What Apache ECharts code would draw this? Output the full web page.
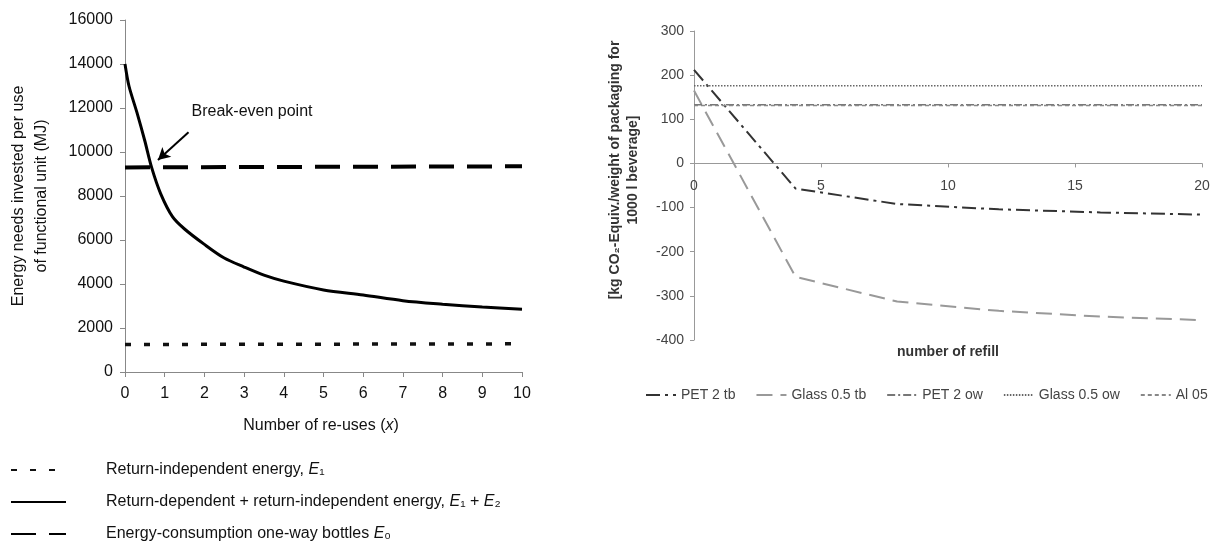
<!DOCTYPE html>
<html>
<head>
<meta charset="utf-8">
<script src="https://cdn.jsdelivr.net/npm/echarts@6/dist/echarts.min.js"></script>
<style>
  * { margin: 0; padding: 0; }
  html, body { width: 1215px; height: 556px; background: #fff; }
</style>
</head>
<body>
<div id="main" style="width:1215px;height:556px;"></div>
<script>
// left chart: energy per use vs number of re-uses
var reuses = [0, 0.1, 0.3, 0.5, 0.67, 0.9, 1.2, 1.5, 2, 2.5, 3, 3.5, 4, 5, 6, 7, 8, 9, 10];
var energyTotal = [14000, 13000, 11800, 10500, 9300, 8100, 7050, 6500, 5800, 5180, 4770, 4400, 4130, 3730, 3500, 3240, 3080, 2950, 2850];
var flatX = [0, 10];
var energyIndep = [1250, 1280];
var energyOneWay = [9300, 9350];
var leftNames = ['Return-independent energy, E1', 'Return-dependent + return-independent energy, E1 + E2', 'Energy-consumption one-way bottles E0'];

// right chart: CO2 per refill
var refills = [0, 4, 8, 12, 16, 20];
var pet2tb = [212, -57, -92, -104, -111, -116];
var glass05tb = [165, -257, -313, -334, -347, -355];
var flatRefill = [0, 20];
var pet2ow = [133, 133];
var glass05ow = [176, 176];
var al05 = [131, 131];
var rightNames = ['PET 2 tb', 'Glass 0.5 tb', 'PET 2 ow', 'Glass 0.5 ow', 'Al 05'];

function pairs(xs, ys) {
    var out = [];
    for (var i = 0; i < xs.length; i++) out.push([xs[i], ys[i]]);
    return out;
}

var font = '"Liberation Sans", Arial, sans-serif';
var chart = echarts.init(document.getElementById('main'));

var leftLabels = {};
leftLabels[leftNames[0]] = 'Return-independent energy, {i|E}\u2081';
leftLabels[leftNames[1]] = 'Return-dependent + return-independent energy, {i|E}\u2081 + {i|E}\u2082';
leftLabels[leftNames[2]] = 'Energy-consumption one-way bottles {i|E}\u2080';

// right grid: x axis sits on the zero line
var rGridH = 309, rMin = -400, rMax = 300;
var rZeroOffset = -rGridH * (0 - rMin) / (rMax - rMin);

chart.setOption({
    animation: false,
    textStyle: { fontFamily: font },
    grid: [
        { left: 125, top: 20, width: 397, height: 352 },
        { left: 694, top: 31, width: 508, height: rGridH }
    ],
    xAxis: [
        {
            gridIndex: 0, type: 'value', min: 0, max: 10, interval: 1,
            axisLine: { lineStyle: { color: '#888' } },
            axisTick: { length: 5, lineStyle: { color: '#888' } },
            axisLabel: { fontSize: 16, color: '#111', margin: 14 },
            splitLine: { show: false }
        },
        {
            gridIndex: 1, type: 'value', min: 0, max: 20, interval: 5,
            offset: rZeroOffset,
            axisLine: { onZero: false, lineStyle: { color: '#999' } },
            axisTick: { length: 4, lineStyle: { color: '#999' } },
            axisLabel: { fontSize: 14, color: '#444', margin: 16 },
            splitLine: { show: false }
        }
    ],
    yAxis: [
        {
            gridIndex: 0, type: 'value', min: 0, max: 16000, interval: 2000,
            axisLine: { show: true, lineStyle: { color: '#888' } },
            axisTick: { show: true, length: 5, lineStyle: { color: '#888' } },
            axisLabel: { fontSize: 16, color: '#111', margin: 12, formatter: function (v) { return String(v); } },
            splitLine: { show: false }
        },
        {
            gridIndex: 1, type: 'value', min: rMin, max: rMax, interval: 100,
            axisLine: { show: true, lineStyle: { color: '#999' } },
            axisTick: { show: true, length: 4, lineStyle: { color: '#999' } },
            axisLabel: { fontSize: 14, color: '#444', margin: 10 },
            splitLine: { show: false }
        }
    ],
    legend: [
        {
            data: leftNames, orient: 'vertical', left: 5, top: 457,
            itemWidth: 55, itemHeight: 14, itemGap: 16,
            itemStyle: { opacity: 0 },
            formatter: function (name) { return leftLabels[name]; },
            textStyle: {
                fontSize: 16, color: '#111', padding: [0, 0, 0, 35],
                rich: { i: { fontSize: 16, fontStyle: 'italic', color: '#111' } }
            }
        },
        {
            data: rightNames, orient: 'horizontal', left: 640, top: 383,
            itemWidth: 30, itemHeight: 14, itemGap: 20,
            itemStyle: { opacity: 0 },
            textStyle: { fontSize: 14, color: '#444' }
        }
    ],
    graphic: [
        {
            type: 'text', x: 30, y: 196, rotation: Math.PI / 2,
            style: { text: 'Energy needs invested per use\nof functional unit (MJ)', font: '16px ' + font,
                fill: '#111', align: 'center', verticalAlign: 'middle', lineHeight: 23 }
        },
        {
            type: 'text', x: 252, y: 112,
            style: { text: 'Break-even point', font: '16px ' + font, fill: '#111', align: 'center', verticalAlign: 'middle' }
        },
        {
            type: 'text', x: 321, y: 426,
            style: {
                text: 'Number of re-uses ({i|x})', font: '16px ' + font, fill: '#111',
                align: 'center', verticalAlign: 'middle',
                rich: { i: { fontStyle: 'italic', fontSize: 16, fontFamily: font, fill: '#111' } }
            }
        },
        {
            type: 'text', x: 624, y: 170, rotation: Math.PI / 2,
            style: { text: '[kg CO\u2082-Equiv./weight of packaging for\n1000 l beverage]', font: 'bold 14px ' + font,
                fill: '#333', align: 'center', verticalAlign: 'middle', lineHeight: 18 }
        },
        {
            type: 'text', x: 948, y: 352,
            style: { text: 'number of refill', font: 'bold 14px ' + font, fill: '#333', align: 'center', verticalAlign: 'middle' }
        }
    ],
    series: [
        {
            name: leftNames[0], type: 'line', xAxisIndex: 0, yAxisIndex: 0, symbol: 'none',
            data: pairs(flatX, energyIndep),
            lineStyle: { color: '#111', width: 3.5, type: [6, 13] }, itemStyle: { color: '#111' }
        },
        {
            name: leftNames[1], type: 'line', xAxisIndex: 0, yAxisIndex: 0, symbol: 'none', smooth: 0.3,
            data: pairs(reuses, energyTotal),
            lineStyle: { color: '#000', width: 3 }, itemStyle: { color: '#000' },
            markLine: {
                silent: true, symbol: ['none', 'arrow'], symbolSize: [10, 12],
                label: { show: false },
                lineStyle: { color: '#000', width: 2, type: 'solid' },
                data: [[{ coord: [1.6, 10900] }, { coord: [0.83, 9640] }]]
            }
        },
        {
            name: leftNames[2], type: 'line', xAxisIndex: 0, yAxisIndex: 0, symbol: 'none',
            data: pairs(flatX, energyOneWay),
            lineStyle: { color: '#000', width: 4, type: [25, 13] }, itemStyle: { color: '#000' }
        },
        {
            name: rightNames[0], type: 'line', xAxisIndex: 1, yAxisIndex: 1, symbol: 'none',
            data: pairs(refills, pet2tb),
            lineStyle: { color: '#333', width: 2, type: [14, 5, 3, 5] }, itemStyle: { color: '#333' }
        },
        {
            name: rightNames[1], type: 'line', xAxisIndex: 1, yAxisIndex: 1, symbol: 'none',
            data: pairs(refills, glass05tb),
            lineStyle: { color: '#999', width: 2, type: [16, 8] }, itemStyle: { color: '#999' }
        },
        {
            name: rightNames[2], type: 'line', xAxisIndex: 1, yAxisIndex: 1, symbol: 'none',
            data: pairs(flatRefill, pet2ow),
            lineStyle: { color: '#777', width: 1.5, type: [8, 3, 2, 3] }, itemStyle: { color: '#777' }
        },
        {
            name: rightNames[3], type: 'line', xAxisIndex: 1, yAxisIndex: 1, symbol: 'none',
            data: pairs(flatRefill, glass05ow),
            lineStyle: { color: '#666', width: 1.5, type: [1.5, 1.5] }, itemStyle: { color: '#666' }
        },
        {
            name: rightNames[4], type: 'line', xAxisIndex: 1, yAxisIndex: 1, symbol: 'none',
            data: pairs(flatRefill, al05),
            lineStyle: { color: '#888', width: 1.5, type: [4, 3] }, itemStyle: { color: '#888' }
        }
    ]
});
</script>
</body>
</html>
